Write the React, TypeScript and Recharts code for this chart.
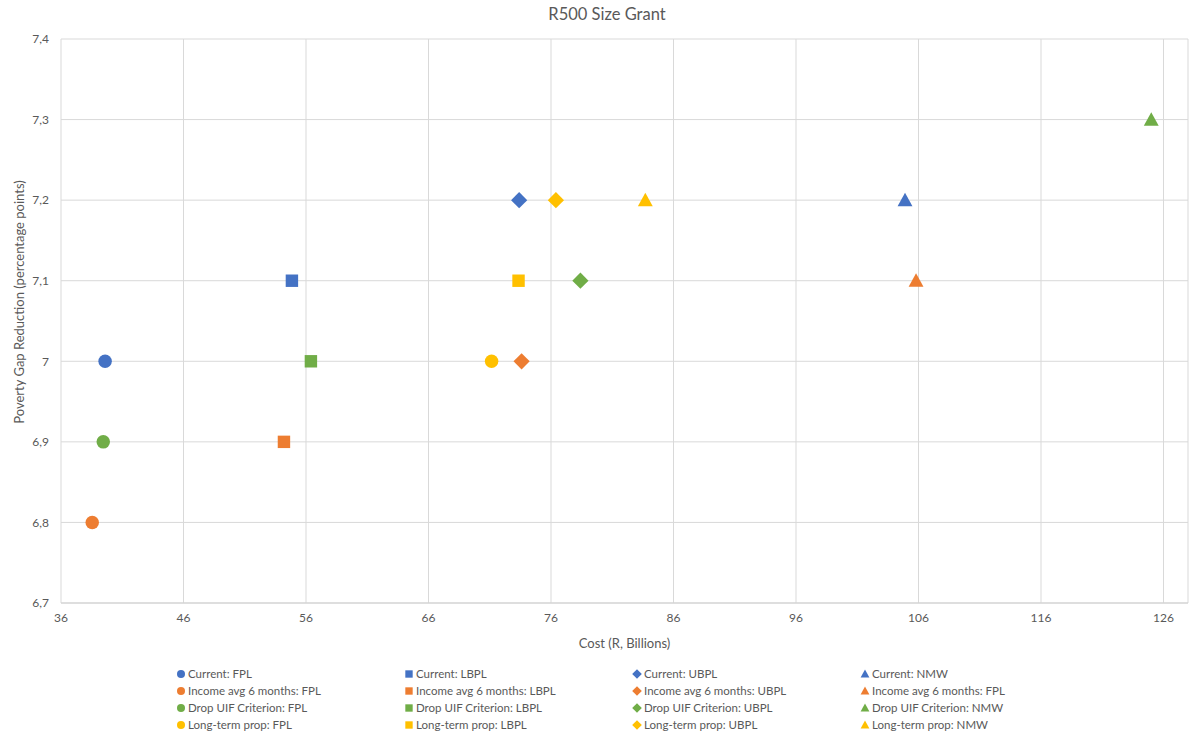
import { ScatterChart, Scatter, XAxis, YAxis, CartesianGrid } from "recharts";

// series (one point each)
const seriesNames = [
  "Current: FPL",
  "Current: LBPL",
  "Current: UBPL",
  "Current: NMW",
  "Income avg 6 months: FPL",
  "Income avg 6 months: LBPL",
  "Income avg 6 months: UBPL",
  "Income avg 6 months: FPL",
  "Drop UIF Criterion: FPL",
  "Drop UIF Criterion: LBPL",
  "Drop UIF Criterion: UBPL",
  "Drop UIF Criterion: NMW",
  "Long-term prop: FPL",
  "Long-term prop: LBPL",
  "Long-term prop: UBPL",
  "Long-term prop: NMW",
];
const costValues = [
  39.6, 54.85, 73.4, 104.9, 38.55, 54.2, 73.6, 105.8, 39.45, 56.4, 78.4, 125.0,
  71.15, 73.35, 76.4, 83.7,
];
const gapValues = [
  7.0, 7.1, 7.2, 7.2, 6.8, 6.9, 7.0, 7.1, 6.9, 7.0, 7.1, 7.3, 7.0, 7.1, 7.2, 7.2,
];
const xTicks = [36, 46, 56, 66, 76, 86, 96, 106, 116, 126];
const yTicks = [6.7, 6.8, 6.9, 7.0, 7.1, 7.2, 7.3, 7.4];

const COLORS = ["#4472C4", "#ED7D31", "#70AD47", "#FFC000"];
const SHAPES = ["circle", "square", "diamond", "triangle"];
const TEXT = "#595959";
const FONT = "Lato, 'Open Sans', sans-serif";

const colorOf = (i: number) => COLORS[Math.floor(i / 4)];
const shapeOf = (i: number) => SHAPES[i % 4];

const drawMarker = (shape: string, color: string, cx: number, cy: number, s: number) => {
  if (shape === "circle") return <circle cx={cx} cy={cy} r={s * 0.5} fill={color} />;
  if (shape === "square")
    return <rect x={cx - s * 0.46} y={cy - s * 0.46} width={s * 0.92} height={s * 0.92} fill={color} />;
  if (shape === "diamond") {
    const h = s * 0.6;
    return <polygon points={`${cx},${cy - h} ${cx + h},${cy} ${cx},${cy + h} ${cx - h},${cy}`} fill={color} />;
  }
  const w = s * 0.55;
  return (
    <polygon
      points={`${cx},${cy - s * 0.55} ${cx + w},${cy + s * 0.45} ${cx - w},${cy + s * 0.45}`}
      fill={color}
    />
  );
};

const makeShape = (i: number) => (props: any) => {
  const { cx, cy } = props;
  return drawMarker(shapeOf(i), colorOf(i), cx, cy, 13.5);
};

const fmtY = (v: number) => String(Number(v.toFixed(1))).replace(".", ",");

const App = () => {
  return (
    <div
      style={{
        position: "fixed",
        left: 0,
        top: 0,
        width: 1195,
        height: 736,
        background: "#fff",
        fontFamily: FONT,
      }}
    >
      <div
        style={{
          position: "absolute",
          left: 0,
          width: 1214,
          top: 4,
          textAlign: "center",
          fontSize: 16.5,
          color: TEXT,
        }}
      >
        R500 Size Grant
      </div>
      <ScatterChart width={1195} height={736} margin={{ top: 39, right: 7, left: 0, bottom: 0 }}>
        <CartesianGrid stroke="#d9d9d9" />
        <XAxis
          type="number"
          dataKey="x"
          domain={[36, 128]}
          ticks={xTicks}
          height={133}
          tickLine={false}
          tickSize={0}
          tickMargin={10}
          axisLine={{ stroke: "#d0d0d0" }}
          tick={{ fill: TEXT, fontSize: 12, fontFamily: FONT }}
          label={{
            content: (p: any) => (
              <text
                x={p.viewBox.x + p.viewBox.width / 2}
                y={643}
                textAnchor="middle"
                dominantBaseline="central"
                fill={TEXT}
                fontSize={13}
                fontFamily={FONT}
              >
                Cost (R, Billions)
              </text>
            ),
          }}
        />
        <YAxis
          type="number"
          dataKey="y"
          domain={[6.7, 7.4]}
          ticks={yTicks}
          width={61}
          tickLine={false}
          axisLine={false}
          tickSize={0}
          tickMargin={12}
          tickFormatter={fmtY}
          tick={{ fill: TEXT, fontSize: 12, fontFamily: FONT }}
          label={{
            content: () => (
              <text
                x={19}
                y={302}
                transform="rotate(-90 19 302)"
                textAnchor="middle"
                dominantBaseline="central"
                fill={TEXT}
                fontSize={13}
                fontFamily={FONT}
              >
                Poverty Gap Reduction (percentage points)
              </text>
            ),
          }}
        />
        {seriesNames.map((name, i) => (
          <Scatter
            key={`s-${i}`}
            name={name}
            data={[{ x: costValues[i], y: gapValues[i] }]}
            fill={colorOf(i)}
            shape={makeShape(i)}
            isAnimationActive={false}
          />
        ))}
      </ScatterChart>
      <div
        style={{
          position: "absolute",
          left: 175,
          top: 665,
          display: "grid",
          gridTemplateColumns: "repeat(4, 228px)",
          gridAutoRows: "17px",
          fontSize: 11.5,
          color: TEXT,
        }}
      >
        {seriesNames.map((name, i) => (
          <div key={`l-${i}`} style={{ display: "flex", alignItems: "center", whiteSpace: "nowrap" }}>
            <svg width={12} height={12} style={{ marginRight: 1 }}>
              {drawMarker(shapeOf(i), colorOf(i), 6, 6, 8)}
            </svg>
            <span>{name}</span>
          </div>
        ))}
      </div>
    </div>
  );
};

export default App;
